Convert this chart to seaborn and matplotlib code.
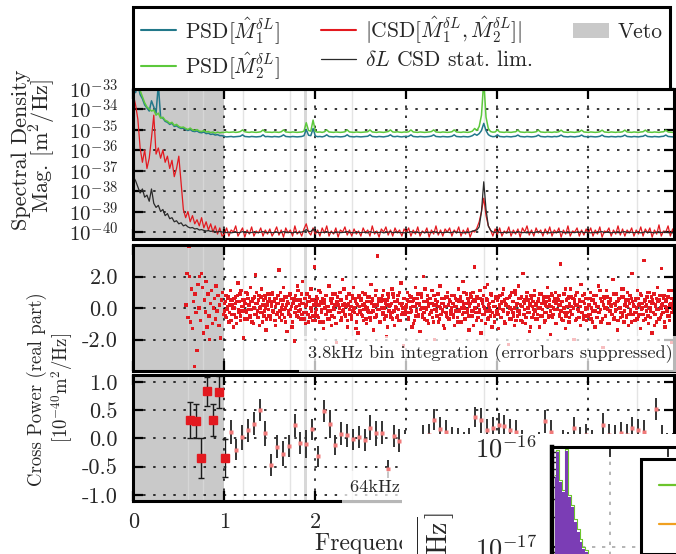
import numpy as np
import matplotlib
matplotlib.use("Agg")
import matplotlib.pyplot as plt
import seaborn as sns
from matplotlib.lines import Line2D
from matplotlib.patches import Patch
from matplotlib.ticker import LogLocator, NullFormatter

sns.set_style("white")
plt.rcParams.update({
    "font.family": ["cmr10", "DejaVu Serif"],
    "mathtext.fontset": "cm",
    "axes.unicode_minus": False,
    "axes.formatter.use_mathtext": True,
})

# ---------------- data ----------------
SPEC_STEP_MHZ = 0.025   # spectral bin spacing of the top panel
# log10 of spectral densities [m^2/Hz], 20 values per 0.5 MHz row
psd1_log = [
    -33.0, -33.2, -32.8, -33.3, -33.5, -33.8, -33.95, -34.1, -33.6, -33.9, -34.2, -32.8, -34.4, -34.45, -34.6, -34.65, -34.75, -34.7, -34.85, -34.82,
    -34.9, -34.95, -34.93, -35.0, -35.05, -35.0, -35.08, -35.1, -35.07, -35.14, -35.16, -35.12, -35.2, -35.18, -35.24, -35.22, -35.27, -35.25, -35.3, -35.3,
    -35.34, -35.36, -35.35, -35.34, -35.36, -35.35, -35.34, -35.33, -35.26, -35.34, -35.35, -35.36, -35.34, -35.35, -35.36, -35.35, -35.34, -35.26, -35.35, -35.34,
    -35.35, -35.36, -35.34, -35.35, -35.36, -35.33, -35.26, -35.34, -35.35, -35.36, -35.34, -35.35, -35.36, -35.35, -35.34, -35.3, -35.0, -35.28, -35.3, -34.95,
    -35.32, -35.35, -35.34, -35.36, -35.33, -35.26, -35.34, -35.35, -35.36, -35.34, -35.35, -35.36, -35.35, -35.33, -35.26, -35.34, -35.35, -35.36, -35.34, -35.35,
    -35.36, -35.35, -35.34, -35.33, -35.26, -35.34, -35.35, -35.36, -35.34, -35.35, -35.36, -35.34, -35.32, -35.26, -35.34, -35.35, -35.33, -35.35, -35.36, -35.34,
    -35.35, -35.33, -35.26, -35.34, -35.35, -35.36, -35.34, -35.35, -35.36, -35.35, -35.34, -35.32, -35.26, -35.34, -35.35, -35.36, -35.34, -35.35, -35.36, -35.35,
    -35.33, -35.26, -35.34, -35.35, -35.36, -35.34, -35.35, -35.36, -35.34, -35.3, -35.22, -35.28, -35.2, -35.05, -34.7, -35.05, -35.25, -35.32, -35.35, -35.34,
    -35.26, -35.34, -35.35, -35.36, -35.34, -35.35, -35.36, -35.34, -35.33, -35.27, -35.34, -35.35, -35.36, -35.34, -35.35, -35.36, -35.35, -35.33, -35.27, -35.34,
    -35.35, -35.36, -35.34, -35.35, -35.36, -35.34, -35.35, -35.33, -35.27, -35.34, -35.35, -35.36, -35.34, -35.35, -35.36, -35.34, -35.33, -35.27, -35.34, -35.35,
    -35.36, -35.34, -35.35, -35.36, -35.35, -35.33, -35.27, -35.34, -35.35, -35.36, -35.34, -35.35, -35.36, -35.34, -35.35, -35.33, -35.27, -35.34, -35.35, -35.36,
    -35.34, -35.35, -35.36, -35.34, -35.33, -35.27, -35.34, -35.35, -35.36, -35.34, -35.35, -35.36, -35.34, -35.33, -35.27, -35.34, -35.35, -35.36, -35.34, -35.35,
]
psd2_log = [
    -32.5, -32.7, -32.9, -33.1, -33.4, -33.7, -33.9, -34.0, -34.1, -34.05, -34.3, -34.2, -34.45, -34.4, -34.55, -34.6, -34.7, -34.65, -34.8, -34.75,
    -34.85, -34.9, -34.88, -34.95, -35.0, -34.93, -35.02, -35.05, -35.0, -35.08, -35.1, -35.05, -35.12, -35.1, -35.15, -35.12, -35.18, -35.13, -35.16, -35.14,
    -35.14, -35.12, -35.14, -35.13, -35.12, -35.14, -35.13, -35.10, -35.02, -35.11, -35.13, -35.14, -35.12, -35.13, -35.14, -35.13, -35.11, -35.02, -35.12, -35.13,
    -35.13, -35.14, -35.12, -35.13, -35.14, -35.11, -35.02, -35.12, -35.13, -35.14, -35.12, -35.13, -35.14, -35.13, -35.12, -35.08, -34.67, -35.05, -35.08, -34.54,
    -35.10, -35.13, -35.12, -35.14, -35.11, -35.02, -35.12, -35.13, -35.14, -35.12, -35.13, -35.14, -35.13, -35.11, -35.02, -35.12, -35.13, -35.14, -35.12, -35.13,
    -35.14, -35.13, -35.12, -35.11, -35.02, -35.12, -35.13, -35.14, -35.12, -35.13, -35.14, -35.12, -35.10, -35.02, -35.12, -35.13, -35.11, -35.13, -35.14, -35.12,
    -35.13, -35.11, -35.02, -35.12, -35.13, -35.14, -35.12, -35.13, -35.14, -35.13, -35.12, -35.10, -35.02, -35.12, -35.13, -35.14, -35.12, -35.13, -35.14, -35.13,
    -35.11, -35.02, -35.12, -35.13, -35.14, -35.12, -35.13, -35.14, -35.12, -35.08, -34.95, -35.05, -34.85, -34.3, -32.6, -34.4, -34.95, -35.10, -35.13, -35.12,
    -35.02, -35.12, -35.13, -35.14, -35.12, -35.13, -35.14, -35.12, -35.11, -35.03, -35.12, -35.13, -35.14, -35.12, -35.13, -35.14, -35.13, -35.11, -35.03, -35.12,
    -35.13, -35.14, -35.12, -35.13, -35.14, -35.12, -35.13, -35.11, -35.03, -35.12, -35.13, -35.14, -35.12, -35.13, -35.14, -35.12, -35.11, -35.03, -35.12, -35.13,
    -35.14, -35.12, -35.13, -35.14, -35.13, -35.11, -35.03, -35.12, -35.13, -35.14, -35.12, -35.13, -35.14, -35.12, -35.13, -35.11, -35.03, -35.12, -35.13, -35.14,
    -35.12, -35.13, -35.14, -35.12, -35.11, -35.03, -35.12, -35.13, -35.14, -35.12, -35.13, -35.14, -35.12, -35.11, -35.03, -35.12, -35.13, -35.14, -35.12, -35.13,
]
csd_abs_log = [
    -33.3, -33.8, -34.5, -35.9, -36.6, -36.0, -36.9, -36.4, -35.4, -34.3, -36.2, -35.9, -36.4, -36.0, -36.6, -36.3, -36.9, -36.5, -37.3, -36.9,
    -36.3, -37.6, -38.9, -39.3, -39.0, -39.5, -39.2, -39.6, -39.4, -39.7, -39.3, -39.8, -39.5, -39.9, -39.6, -40.0, -39.7, -40.1, -39.8, -40.2,
    -40.1, -39.8, -40.2, -39.9, -40.0, -39.7, -40.2, -40.0, -39.8, -40.25, -39.9, -40.1, -39.75, -40.2, -39.95, -40.05, -39.8, -40.2, -39.9, -40.1,
    -39.85, -40.2, -40.0, -39.75, -40.15, -39.9, -40.25, -39.8, -40.05, -39.9, -40.2, -39.7, -40.1, -39.95, -40.2, -39.85, -39.6, -40.0, -40.15, -39.8,
    -40.1, -39.9, -40.2, -39.8, -40.05, -39.7, -40.2, -39.95, -40.1, -39.8, -40.25, -39.9, -40.0, -39.75, -40.15, -39.9, -40.2, -39.85, -40.1, -39.95,
    -40.2, -39.8, -40.05, -39.9, -40.2, -39.7, -40.1, -39.95, -40.25, -39.85, -40.0, -39.75, -40.15, -39.9, -40.2, -39.8, -40.05, -39.9, -40.2, -39.85,
    -40.0, -39.8, -40.2, -39.9, -40.1, -39.75, -40.2, -39.95, -40.05, -39.8, -40.25, -39.9, -40.1, -39.7, -40.15, -39.9, -40.2, -39.85, -40.0, -39.8,
    -40.2, -39.9, -40.05, -39.75, -40.2, -39.9, -40.1, -39.8, -40.25, -39.95, -40.0, -39.8, -39.5, -39.0, -38.35, -39.2, -39.7, -39.9, -40.2, -39.85,
    -40.1, -39.8, -40.2, -39.95, -40.05, -39.75, -40.2, -39.9, -40.1, -39.85, -40.25, -39.8, -40.0, -39.7, -40.15, -39.9, -40.2, -39.8, -40.05, -39.9,
    -40.2, -39.85, -40.1, -39.75, -40.2, -39.9, -40.05, -39.8, -40.25, -39.9, -40.1, -39.7, -40.2, -39.95, -40.0, -39.8, -40.2, -39.9, -40.15, -39.85,
    -40.05, -39.8, -40.2, -39.9, -40.1, -39.75, -40.25, -39.95, -40.0, -39.8, -40.2, -39.9, -40.1, -39.7, -40.15, -39.85, -40.2, -39.9, -40.05, -39.8,
    -40.2, -39.9, -40.1, -39.75, -40.2, -39.85, -40.05, -39.8, -40.25, -39.9, -40.1, -39.65, -40.2, -39.95, -40.0, -39.7, -40.2, -39.85, -40.1, -39.9,
]
stat_lim_log = [
    -37.3, -37.5, -37.8, -38.1, -37.9, -38.3, -38.2, -38.5, -37.9, -38.6, -38.8, -38.7, -39.0, -38.9, -39.2, -39.1, -39.35, -39.3, -39.5, -39.45,
    -39.6, -39.55, -39.7, -39.65, -39.75, -39.8, -39.78, -39.85, -39.83, -39.9, -39.88, -39.92, -39.95, -39.93, -39.97, -39.95, -39.98, -40.0, -39.97, -40.0,
    -40.01, -40.03, -40.0, -40.04, -40.02, -40.01, -40.03, -40.02, -39.98, -40.03, -40.01, -40.04, -40.02, -40.0, -40.03, -40.02, -40.01, -39.98, -40.03, -40.02,
    -40.01, -40.03, -40.02, -40.0, -40.04, -40.02, -39.98, -40.03, -40.01, -40.02, -40.04, -40.01, -40.03, -40.02, -40.0, -39.97, -39.88, -39.97, -39.98, -39.86,
    -39.98, -40.02, -40.03, -40.01, -40.02, -39.98, -40.03, -40.01, -40.04, -40.02, -40.0, -40.03, -40.02, -40.01, -39.98, -40.03, -40.02, -40.04, -40.01, -40.02,
    -40.03, -40.01, -40.02, -40.04, -39.98, -40.02, -40.01, -40.03, -40.02, -40.0, -40.04, -40.02, -40.01, -39.98, -40.03, -40.02, -40.01, -40.03, -40.02, -40.04,
    -40.01, -40.02, -39.98, -40.03, -40.01, -40.02, -40.04, -40.0, -40.03, -40.02, -40.01, -40.03, -39.98, -40.02, -40.04, -40.01, -40.03, -40.02, -40.0, -40.03,
    -40.02, -39.98, -40.03, -40.01, -40.02, -40.04, -40.01, -40.03, -40.0, -39.96, -39.92, -39.9, -39.75, -39.0, -37.55, -38.9, -39.7, -39.92, -40.0, -40.02,
    -39.97, -40.02, -40.03, -40.01, -40.04, -40.02, -40.0, -40.03, -40.02, -39.98, -40.01, -40.03, -40.02, -40.04, -40.01, -40.02, -40.03, -40.0, -39.98, -40.02,
    -40.03, -40.01, -40.02, -40.04, -40.0, -40.03, -40.02, -40.01, -39.98, -40.03, -40.02, -40.04, -40.01, -40.02, -40.03, -40.0, -40.02, -39.98, -40.03, -40.01,
    -40.02, -40.04, -40.01, -40.03, -40.02, -40.0, -39.98, -40.03, -40.01, -40.02, -40.04, -40.02, -40.01, -40.03, -40.02, -40.0, -39.98, -40.03, -40.02, -40.01,
    -40.03, -40.02, -40.01, -40.04, -40.02, -39.98, -40.03, -40.01, -40.02, -40.04, -40.0, -40.03, -40.02, -40.01, -39.98, -40.03, -40.02, -40.04, -40.01, -40.02,
]

# middle panel: 3.8 kHz-bin cross power, real part [1e-40 m^2/Hz]
veto_start_mhz, veto_step_mhz = 0.58, 0.01
cross_veto = [
    0.2, 2.2, -0.6, 3.9, 2.0, -0.9, 1.2, -1.3, 0.4, -3.7,
    0.9, -0.3, -2.7, 1.5, 0.0, 2.0, -0.8, 2.2, 1.3, -1.6,
    0.5, -0.25, 1.7, -1.2, 0.9, -0.5, -2.0, 0.3, 1.1, -1.0,
    0.0, 0.6, -0.7, 1.4, -0.2, 0.8, -1.1, 0.2, -1.9, 0.5,
    1.0, -0.4,
]
main_start_mhz, main_step_mhz = 1.0, 0.01
cross_main_a = [
    0.3, -0.5, 0.8, -0.1, 0.6, -0.9, 0.2, 1.1, -0.4, 0.5, -1.2, 0.0, 0.7, -0.6, 0.4, 1.6, -0.3, 0.9, -0.8, 0.1,
    0.5, -1.9, 0.3, -0.2, 1.0, -0.7, 0.6, 0.2, -0.5, 1.3, -0.1, 0.4, -1.0, 0.7, 2.1, -0.4, 0.3, -0.6, 0.8, 0.0,
    -0.3, 1.2, -0.9, 0.5, -0.2, 0.6, -1.4, 0.2, 0.9, -0.5,
    0.4, -0.7, 0.1, 1.0, -0.3, 0.6, -1.1, 0.3, -0.4, 0.8, 2.4, -0.2, 0.5, -0.8, 0.2, 1.3, -0.6, 0.0, 0.7, -1.5,
    0.3, -0.4, 0.9, -0.1, 0.6, -0.9, 0.4, -2.1, 0.8, 0.1, -0.5, 1.1, -0.2, 0.5, -0.7, 0.3, 1.7, -0.3, 0.6, -1.0,
    0.2, 0.9, -0.4, 0.4, -0.6, 1.2, 0.0, -0.8, 0.5, 2.6,
    -0.3, 0.7, -0.5, 0.2, 1.1, -0.9, 0.4, -0.1, 0.6, -1.3, 0.3, 0.8, -0.4, 0.1, -0.7, 1.4, -0.2, 0.5, -1.1, 0.6,
    0.0, -0.6, 0.9, -2.2, 0.4, 0.2, -0.3, 1.0, -0.8, 0.5, 1.8, -0.1, 0.3, -0.5, 0.7, -1.2, 0.2, 0.9, -0.4, 0.1,
    -0.7, 0.6, 1.3, -0.3, 0.4, -0.9, 0.2, -1.6, 0.8, -0.2,
    0.5, -0.4, 1.0, -0.8, 0.3, 0.1, -1.0, 0.7, -0.2, 0.4, -0.6, 1.5, -0.3, 0.6, -1.4, 0.2, 0.8, -0.5, 3.3, -0.1,
    0.4, -0.9, 0.6, 0.0, -0.4, 1.1, -0.7, 0.3, -1.8, 0.5, 0.9, -0.2, 0.2, -0.6, 1.2, -0.3, 0.7, -1.1, 0.1, 0.4,
    -0.5, 0.8, -0.8, 0.3, 1.6, -0.4, 0.0, -2.4, 0.6, -0.1,
    0.2, 1.0, -0.6, 0.4, -0.3, 0.7, -1.2, 0.1, 0.5, -0.8, 1.3, -0.2, 0.6, -0.5, 0.3, -1.5, 0.9, 0.0, -0.4, 2.0,
    -0.7, 0.4, -0.1, 0.8, -1.0, 0.3, 0.6, -0.3, 1.1, -0.6, 0.2, -2.0, 0.5, -0.2, 0.9, -0.9, 0.1, 1.4, -0.4, 0.6,
    -0.1, 0.3, -1.3, 0.7, -0.5, 1.0, 0.2, -0.7, 0.4, -0.2,
    0.8, -0.4, 0.3, -1.1, 0.6, 0.1, -0.6, 1.2, -0.2, 0.5, -0.9, 0.4, 1.7, -0.3, 0.0, -0.7, 0.9, -0.1, 0.5, -1.4,
    0.3, 0.7, -0.5, 1.0, -0.2, 2.6, 0.4, -0.8, 0.6, 0.2, -0.3, 1.1, -1.6, 0.5, -0.4, 0.8, 0.0, -1.0, 0.6, 1.5,
    -0.6, 0.3, -0.2, 0.9, -1.2, 0.4, 0.1, -0.5, 0.7, -0.3,
    0.5, -1.3, 0.2, 0.8, -0.6, 0.4, -0.1, 1.2, -0.9, 0.3, 0.6, -0.4, -2.3, 0.7, 0.0, -0.7, 1.0, -0.3, 0.4, -1.1,
    0.9, 0.2, -0.5, 1.4, -0.2, 0.6, -0.8, 0.1, 2.2, -0.4, 0.3, -1.0, 0.7, -0.3, 0.5, -1.5, 0.2, 0.8, -0.6, 0.4,
    -0.1, 1.1, -0.7, 0.3, -0.4, 0.6, -1.2, 0.0, 0.9, -0.5,
    0.3, 0.7, -0.9, 0.2, -0.3, 1.3, -0.6, 0.5, -1.7, 0.1, 0.8, -0.4, 0.4, -0.1, 1.0, -1.0, 0.6, 0.2, -0.5, 2.8,
    -0.2, 0.4, -0.8, 0.9, 0.0, -1.3, 0.5, -0.3, 0.7, -0.6, 1.2, 0.1, -0.4, 0.6, -2.0, 0.3, 0.8, -0.7, 0.2, -0.2,
    0.5, -1.1, 1.5, -0.3, 0.4, -0.5, 0.9, 0.0, -0.8, 0.6,
    -0.4, 0.2, 1.0, -0.7, 0.5, -0.2, 0.8, -1.2, 0.3, 0.1, -0.6, 1.4, -0.3, 0.6, -0.9, 0.4, -2.5, 0.7, 0.0, -0.5,
    1.1, -0.1, 0.4, -1.0, 0.6, 0.2, -0.4, 1.8, -0.7, 0.3, -0.2, 0.9, -1.4, 0.5, 0.0, -0.6, 1.2, -0.3, 0.7, -0.9,
    0.2, 0.5, -0.5, 1.0, -1.1, 0.3, -0.2, 0.6, 2.2, -0.4,
    0.1, -0.8, 0.6, -0.3, 1.1, -0.5, 0.3, -1.3, 0.8, 0.0, -0.4, 3.0, 0.5, -0.7, 0.2, 1.0, -1.0, 0.4, -0.2, 0.7,
    -1.6, 0.3, 0.9, -0.4, 0.1, -0.9, 1.3, -0.1, 0.5, -0.6, 2.5, 0.2, -0.3, 0.8, -1.2, 0.4, 0.0, -0.5, 1.1, -0.8,
    0.3, 0.6, -2.2, 0.2, -0.1, 0.9, -0.6, 0.4, -0.3, 0.7,
]
cross_main_b = [
    -0.2, 0.4, -0.6, 0.1, 0.7, -0.3, 0.5, -0.8, 0.2, 0.0, 0.6, -0.4, 0.3, -1.0, 0.8, -0.1, 0.4, -0.5, 1.1, -0.2,
    0.1, 0.5, -0.7, 0.3, -0.3, 0.9, -0.1, 0.2, -0.6, 0.4, -0.9, 0.6, 0.0, -0.4, 0.3, 1.0, -0.2, 0.5, -1.1, 0.1,
    0.7, -0.3, 0.2, -0.5, 0.8, 0.0, -0.7, 0.4, -0.1, 0.6,
    -0.5, 0.2, 0.9, -0.2, 0.4, -0.8, 0.1, 0.6, -0.3, 0.3, -0.6, 1.0, 0.0, -0.4, 0.5, -0.1, 0.7, -0.9, 0.2, 0.4,
    -0.2, 0.8, -0.5, 0.1, -1.2, 0.3, 0.6, -0.3, 0.0, 0.5, 1.4, -0.6, 0.2, -0.1, 0.9, -0.4, 0.3, -0.7, 0.6, 0.1,
    -0.3, 0.4, -0.9, 0.7, 0.0, -0.2, 0.5, -0.5, 0.2, -0.8,
    0.4, -0.1, 0.6, -0.6, 0.2, 1.0, -0.3, 0.3, -0.9, 0.5, 0.0, -0.4, 0.8, -0.2, 0.1, -0.7, 0.6, 0.3, -0.5, 0.9,
    -0.1, 0.2, -1.0, 0.4, 0.7, -0.3, 0.0, 0.5, -0.6, 0.2, -0.2, 1.2, -0.4, 0.1, 0.6, -0.8, 0.3, -0.1, 0.4, -0.5,
    0.8, -0.2, 0.0, 0.6, -1.3, 0.3, -0.4, 0.7, 0.1, -0.3,
    0.6, -0.5, 0.2, -0.1, 0.9, -0.7, 0.4, 0.0, -0.3, 0.7, -0.8, 0.3, 0.5, -0.2, 0.1, -0.6, 1.1, -0.4, 0.2, 0.6,
    -0.1, -0.9, 0.4, 0.8, -0.3, 0.0, 0.5, -0.5, 0.2, -1.2, 0.7, 0.1, -0.4, 0.3, -0.7, 0.9, -0.2, 0.4, 0.0, -0.6,
    0.5, -0.1, 1.0, -0.8, 0.2, 0.3, -0.3, 0.6, -0.4, 0.1,
    -0.3, 0.5, -0.7, 0.8, 0.0, -0.2, 0.4, -1.0, 0.6, 0.1, -0.5, 0.3, 0.9, -0.4, 0.2, -0.1, 0.7, -0.6, 0.4, -0.3,
    1.2, 0.0, -0.8, 0.5, 0.1, -0.4, 0.6, -0.2, 0.3, -0.9, 0.8, -0.1, 0.2, -0.5, 0.4, 0.9, -0.7, 0.0, 0.3, -0.2,
    -1.1, 0.6, 0.1, -0.3, 0.7, -0.6, 0.2, 0.5, -0.4, 0.0,
    0.3, -0.6, 0.8, 0.1, -0.2, 0.5, -0.9, 0.4, -0.1, 0.7, 0.0, -0.4, 0.2, 1.0, -0.7, 0.3, -0.3, 0.6, -0.5, 0.1,
    0.9, -0.2, 0.4, -1.1, 0.5, 0.0, -0.3, 0.7, -0.6, 0.2, -0.1, 0.6, -0.8, 0.3, 0.1, -0.4, 1.3, -0.2, 0.5, -0.7,
    0.2, 0.0, -0.5, 0.8, -0.3, 0.4, -0.9, 0.1, 0.6, -0.2,
    -0.4, 0.7, 0.0, -0.6, 0.3, 0.9, -0.2, 0.5, -1.0, 0.2, 0.6, -0.3, 0.1, -0.7, 0.8, -0.1, 0.4, -0.5, 0.0, 1.1,
    -0.8, 0.3, -0.2, 0.6, -0.4, 0.2, 0.7, -0.9, 0.4, -0.1, 0.5, -0.6, 1.0, 0.0, -0.3, 0.3, -1.2, 0.6, 0.1, -0.4,
    0.8, -0.2, 0.2, -0.7, 0.4, 0.0, 0.9, -0.5, 0.3, -0.1,
    0.5, -0.3, -0.8, 0.4, 0.1, 0.7, -0.5, 0.2, -0.2, 0.9, -0.6, 0.0, 0.6, -1.0, 0.3, -0.1, 0.5, 0.8, -0.4, 0.2,
    -0.7, 0.4, 0.0, -0.3, 1.2, -0.5, 0.1, 0.6, -0.9, 0.3, -0.2, 0.7, -0.4, 0.0, 0.5, -0.8, 0.2, 1.0, -0.1, -0.6,
    0.4, 0.1, -0.3, 0.8, -0.7, 0.3, -0.1, 0.6, 0.0, -0.5,
    0.2, 0.6, -0.4, 0.0, -0.9, 0.5, 0.3, -0.2, 0.8, -0.6, 0.1, -0.3, 1.1, -0.1, 0.4, -0.7, 0.2, 0.6, -0.5, 0.0,
    0.7, -1.0, 0.3, -0.2, 0.5, 0.1, -0.4, 0.9, -0.6, 0.2, -0.1, 0.4, -0.8, 0.6, 0.0, -0.3, 0.7, -0.5, 1.2, -0.2,
    0.3, -0.6, 0.1, 0.5, -0.4, 0.8, -0.1, -0.9, 0.4, 0.2,
    -0.3, 0.5, 0.0, -0.7, 0.6, 0.2, -0.4, 0.9, -0.1, 0.3, -0.8, 0.4, 0.1, -0.2, 0.7, -0.5, 1.0, 0.0, -0.6, 0.3,
    0.5, -0.3, -1.1, 0.2, 0.6, -0.1, 0.4, -0.7, 0.8, 0.0, -0.4, 0.3, 0.6, -0.9, 0.1, 0.5, -0.2, 0.7, -0.5, 0.2,
    1.1, -0.3, 0.0, 0.4, -0.8, 0.6, -0.1, 0.3, -0.4, 0.5,
]

# bottom panel: 64 kHz-bin cross power with 1-sigma errors
bin64_start_mhz, bin64_step_mhz = 0.62, 0.064
n_veto_bins = 7
cp64_val = [
    0.33, 0.30, -0.35, 0.83, 0.32, 0.82, -0.35,
    0.11, -0.20, 0.02, 0.14, 0.26, 0.50, 0.09, -0.47, -0.15, -0.27,
    -0.14, 0.23, -0.08, -0.10, 0.16, -0.32, 0.48, 0.25, -0.12, 0.08,
    0.05, -0.02, 0.02, -0.03, 0.19, 0.09, 0.10, -0.54, 0.04, -0.04,
    -0.06, -0.20, -0.15, 0.03, 0.06, 0.33, 0.17, 0.12, 0.00, -0.02,
    -0.08, -0.02, 0.38, 0.32, 0.15, 0.18, 0.24, 0.21, 0.15, 0.12,
    -0.05, -0.20, -0.15, -0.08, 0.30, 0.12, -0.12, -0.05, -0.08, 0.18,
    0.00, 0.06, -0.05, -0.20, 0.24, 0.06, 0.03, 0.09, 0.06, 0.18,
    0.15, 0.12, -0.15, 0.52, 0.03, -0.10, -0.10,
]
cp64_err = [
    0.32, 0.30, 0.35, 0.25, 0.28, 0.28, 0.33,
    0.22, 0.19, 0.22, 0.20, 0.20, 0.20, 0.22, 0.20, 0.20, 0.22,
    0.19, 0.20, 0.19, 0.25, 0.19, 0.18, 0.19, 0.25, 0.18, 0.20,
    0.20, 0.19, 0.20, 0.20, 0.22, 0.22, 0.20, 0.16, 0.19, 0.21,
    0.20, 0.20, 0.21, 0.20, 0.20, 0.19, 0.20, 0.20, 0.20, 0.20,
    0.20, 0.20, 0.18, 0.22, 0.20, 0.20, 0.20, 0.20, 0.20, 0.20,
    0.20, 0.20, 0.20, 0.20, 0.20, 0.20, 0.20, 0.20, 0.20, 0.20,
    0.20, 0.20, 0.20, 0.20, 0.20, 0.20, 0.20, 0.20, 0.20, 0.20,
    0.20, 0.20, 0.20, 0.19, 0.20, 0.20, 0.20,
]

veto_band_mhz = (0.0, 1.0)
narrow_veto_lines_mhz = [0.6, 0.77, 1.2, 1.72, 2.4, 3.85, 5.53]
wide_veto_line_mhz = (1.87, 1.91)

# overlapping inset (neighbouring figure)
inset_x = [0.05, 0.10, 0.15, 0.20, 0.25, 0.30, 0.35, 0.40, 0.45, 0.50, 0.55, 0.60, 0.65, 0.70, 0.75, 0.80]
inset_purple_log = [-16.3, -16.05, -16.35, -16.45, -16.04, -16.5, -16.6, -16.75, -16.85, -16.95, -17.02, -17.05, -17.1, -17.12, -17.15, -17.2]
inset_green_log = [-16.28, -16.03, -16.33, -16.43, -16.02, -16.48, -16.58, -16.72, -16.82, -16.92, -17.0, -17.03, -17.08, -17.1, -17.13, -17.18]

# ---------------- styling ----------------
C_TEAL = "#22788a"
C_GREEN = "#5cc83c"
C_RED = "#e3191f"
C_BLACK = "#2a2a2a"
C_VETO = "#c9c9c9"
XMAX = 5.94

W, H = 676.0, 554.0


def rect(x0, y0, x1, y1):
    return [x0 / W, 1 - y1 / H, (x1 - x0) / W, (y1 - y0) / H]


fig = plt.figure(figsize=(6.76, 5.54), dpi=100)
ax1 = fig.add_axes(rect(133.3, 88.5, 674, 239))
ax2 = fig.add_axes(rect(133.3, 245, 674, 371))
ax3 = fig.add_axes(rect(133.3, 375, 674, 501))


def style(ax):
    ax.set_facecolor("white")
    for s in ax.spines.values():
        s.set_visible(True)
        s.set_linewidth(2.2)
        s.set_color("black")
        s.set_zorder(4)
    ax.tick_params(which="both", direction="in", top=True, bottom=True,
                   left=True, right=True, color="black")
    ax.tick_params(which="major", length=7, width=1.6)
    ax.tick_params(which="minor", length=3.5, width=1.0)
    ax.tick_params(axis="y", pad=11)
    ax.set_axisbelow(True)
    ax.grid(True, which="major", color="black", linestyle=(0, (1.6, 5)), linewidth=1.1)
    ax.axvspan(*veto_band_mhz, color=C_VETO, zorder=0.2, lw=0)
    for xl in narrow_veto_lines_mhz:
        ax.axvline(xl, color="#e4e4e4" if xl > 1 else "#d6d6d6", lw=1.0, zorder=0.3)
    ax.axvspan(*wide_veto_line_mhz, color="#d8d8d8", zorder=0.3, lw=0)
    ax.set_xlim(0, XMAX)
    ax.set_xticks([0, 1, 2, 3, 4, 5])


for ax in (ax1, ax2, ax3):
    style(ax)

# ---- top panel ----
series = [(psd1_log, C_TEAL, 1.1), (psd2_log, C_GREEN, 1.1),
          (csd_abs_log, C_RED, 0.9), (stat_lim_log, C_BLACK, 0.9)]
for vals, col, lw in series:
    f = np.arange(len(vals)) * SPEC_STEP_MHZ
    sns.lineplot(x=f, y=10.0 ** np.array(vals), ax=ax1, color=col, linewidth=lw)
ax1.set_yscale("log")
ax1.set_ylim(10 ** -40.34, 1e-33)
ax1.set_yticks([10.0 ** e for e in range(-40, -32)])
ax1.set_yticklabels([r"$10^{%d}$" % e for e in range(-40, -32)], fontsize=15)
ax1.yaxis.set_minor_locator(LogLocator(base=10, subs=np.arange(2, 10)))
ax1.yaxis.set_minor_formatter(NullFormatter())
ax1.tick_params(labelbottom=False)

handles = [Line2D([], [], color=C_TEAL, lw=1.5), Line2D([], [], color=C_GREEN, lw=1.5),
           Line2D([], [], color=C_RED, lw=1.5), Line2D([], [], color=C_BLACK, lw=0.9),
           Patch(facecolor=C_VETO, edgecolor="none")]
labels = [r"PSD$[\hat{M}_1^{\delta L}]$", r"PSD$[\hat{M}_2^{\delta L}]$",
          r"$|$CSD$[\hat{M}_1^{\delta L},\hat{M}_2^{\delta L}]|$",
          r"$\delta L$ CSD stat. lim.", "Veto"]
leg = ax1.legend(handles, labels, ncol=3, loc="lower left", bbox_to_anchor=(0, 1),
                 borderaxespad=0, fontsize=15.5, frameon=True, fancybox=False,
                 framealpha=1, edgecolor="black", handlelength=1.65,
                 handletextpad=0.4, columnspacing=1.9, borderpad=0.35,
                 labelspacing=0.2)
leg.get_frame().set_linewidth(2.2)

# ---- middle panel ----
xv = veto_start_mhz + np.arange(len(cross_veto)) * veto_step_mhz
xa = main_start_mhz + np.arange(len(cross_main_a)) * main_step_mhz
xb = main_start_mhz + main_step_mhz / 2 + np.arange(len(cross_main_b)) * main_step_mhz
sns.scatterplot(x=np.concatenate([xv, xa, xb]),
                y=np.concatenate([cross_veto, cross_main_a, cross_main_b]),
                ax=ax2, s=6, color=C_RED, marker="s", edgecolor="none", linewidth=0, zorder=3)
ax2.set_ylim(-4, 4)
ax2.set_yticks([-2, 0, 2])
ax2.set_yticklabels(["-2.0", "0.0", "2.0"], fontsize=16)
ax2.tick_params(labelbottom=False)
ax2.text(0.997, 0.135, "3.8kHz bin integration (errorbars suppressed)", transform=ax2.transAxes,
         ha="right", va="center", fontsize=13.2, zorder=10,
         bbox=dict(facecolor="white", alpha=0.72, edgecolor="none", pad=6))

# ---- bottom panel ----
x64 = bin64_start_mhz + np.arange(len(cp64_val)) * bin64_step_mhz
v64 = np.array(cp64_val)
e64 = np.array(cp64_err)
n = n_veto_bins
ax3.errorbar(x64[n:], v64[n:], yerr=e64[n:], fmt="s", ms=2.2, mfc="#f07a7a", mec="none",
             ecolor="#333333", elinewidth=1.4, capsize=0, zorder=3)
ax3.errorbar(x64[:n], v64[:n], yerr=e64[:n], fmt="s", ms=6, mfc=C_RED, mec=C_RED,
             ecolor="#1a1a1a", elinewidth=1.0, capsize=2.5, capthick=1.0, zorder=3.5)
ax3.set_ylim(-1.11, 1.12)
ax3.set_yticks([-1, -0.5, 0, 0.5, 1])
ax3.set_yticklabels(["-1.0", "-0.5", "0.0", "0.5", "1.0"], fontsize=16)
ax3.set_xticklabels(["0", "1", "2", "3", "4", "5"], fontsize=16)
ax3.tick_params(axis="x", pad=8)
ax3.set_xlabel("Frequency [MHz]", fontsize=17, labelpad=0)
ax3.text(0.401, 0.11, "64kHz bin integration", transform=ax3.transAxes,
         ha="left", va="center", fontsize=13.2, zorder=10,
         bbox=dict(facecolor="white", alpha=0.72, edgecolor="none", pad=6))

# y labels
fig.text(21 / W, 1 - 150 / H, "Spectral Density", rotation=90, ha="center", va="center", fontsize=16)
fig.text(43 / W, 1 - 146 / H, r"Mag. [m$^2$/Hz]", rotation=90, ha="center", va="center", fontsize=16)
fig.text(37 / W, 1 - 389 / H, "Cross Power (real part)", rotation=90, ha="center", va="center", fontsize=13.5)
fig.text(62 / W, 1 - 388 / H, r"[10$^{-40}$m$^2$/Hz]", rotation=90, ha="center", va="center", fontsize=13.5)

# ---- overlapping neighbour figure (bottom right) ----
wp = fig.add_axes(rect(402, 434, 676, 554), zorder=5)
wp.set_facecolor("white")
for s in wp.spines.values():
    s.set_visible(False)
wp.set_xticks([])
wp.set_yticks([])

ins = fig.add_axes(rect(552, 447, 800, 647), zorder=6)
ins.set_facecolor("white")
ins.set_yscale("log")
ins.set_xlim(0, 248 / 58)
ins.set_ylim(1e-18, 1e-16)
ins.set_axisbelow(True)
ins.grid(True, which="major", color="#a8a8a8", linestyle=(0, (2, 4)), linewidth=1.2)
ix = np.array(inset_x)
ins.fill_between(ix, 1e-18, 10.0 ** np.array(inset_purple_log), step="mid", color="#7b3db5", lw=0, zorder=2)
ins.step(ix, 10.0 ** np.array(inset_green_log), where="mid", color="#6cc42c", lw=0.8, zorder=1.5)
for s in ins.spines.values():
    s.set_linewidth(2.2)
    s.set_color("black")
ins.spines["left"].set_linewidth(3.2)
ins.set_xticks([1, 2])
ins.tick_params(axis="x", which="both", direction="in", top=True, bottom=False,
                labelbottom=False, labeltop=False, length=7, width=1.3)
ins.set_yticks([1e-17, 1e-16])
ins.set_yticklabels([r"$10^{-17}$", r"$10^{-16}$"], fontsize=19)
ins.yaxis.set_minor_locator(LogLocator(base=10, subs=np.arange(2, 10)))
ins.yaxis.set_minor_formatter(NullFormatter())
ins.tick_params(axis="y", which="both", direction="in", left=True, right=False, pad=11)
ins.tick_params(axis="y", which="major", length=8, width=1.5)
ins.tick_params(axis="y", which="minor", length=4, width=1.0)
lh = [Line2D([], [], color="#6cc42c", lw=1.6), Line2D([], [], color="#f0a020", lw=1.6)]
leg2 = ins.legend(lh, ["Detector 1", "Detector 2"], loc="upper left",
                  bbox_to_anchor=((641 - 552) / 248, (647 - 459) / 200), borderaxespad=0,
                  fontsize=16, frameon=True, fancybox=False, framealpha=1,
                  edgecolor="black", handlelength=2.0, borderpad=0.8, labelspacing=0.9)
leg2.get_frame().set_linewidth(2.2)
fig.text(436 / W, 1 - 512 / H, r"ASD $[\mathrm{m}/\sqrt{\mathrm{Hz}}]$", rotation=90,
         ha="center", va="top", fontsize=20, zorder=10)

fig.savefig("out.png", dpi=100)
